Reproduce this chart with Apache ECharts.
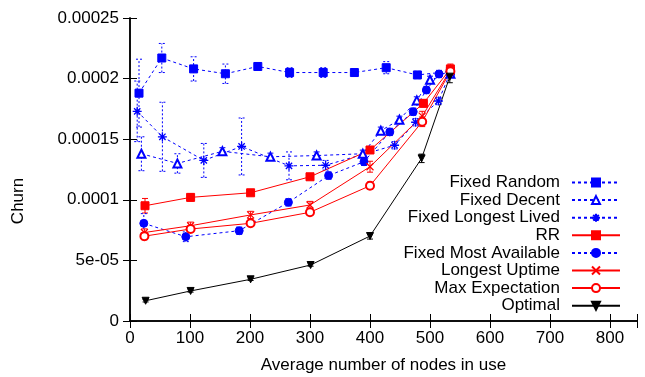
<!DOCTYPE html>
<html><head><meta charset="utf-8">
<script src="https://cdn.jsdelivr.net/npm/echarts@6/dist/echarts.min.js"></script>
<style>html,body{margin:0;padding:0;background:#fff}#c{width:645px;height:377px}</style>
</head><body><div id="c"></div>
<script>
const xTickLabels = ['0','100','200','300','400','500','600','700','800'];
const yTickLabels = ['0','5e-05','0.0001','0.00015','0.0002','0.00025'];
const seriesNames = ['Fixed Random','Fixed Decent','Fixed Longest Lived','RR','Fixed Most Available','Longest Uptime','Max Expectation','Optimal'];

const frX = [15, 53, 106, 159, 213, 266, 322, 374, 427, 479, 534];
const frY = [0.000188, 0.000217, 0.000208, 0.000204, 0.000210, 0.000205, 0.000205, 0.000205, 0.000209, 0.000203, 0.000206];
const frE = [0.000028, 0.000012, 0.000010, 0.000008, 0.000003, 0.000004, 0.000004, 0.000003, 0.000005, 0.000003, 0.000003];

const fdX = [19, 79, 154, 234, 311, 388, 418, 449, 478, 500, 534];
const fdY = [0.000138, 0.000130, 0.000140, 0.0001355, 0.0001365, 0.000138, 0.000157, 0.000166, 0.000182, 0.000199, 0.000204];
const fdE = [0.000014, 0.000008, 0.000003, 0.000003, 0.000003, 0.000003, 0.000003, 0.000003, 0.000003, 0.000003, 0.000003];

const fllX = [12, 54, 123, 186, 265, 326, 441, 476, 514, 534];
const fllY = [0.000173, 0.000152, 0.0001325, 0.000144, 0.000128, 0.0001285, 0.000145, 0.000164, 0.0001815, 0.000205];
const fllE = [0.000025, 0.0000285, 0.000014, 0.0000235, 0.0000115, 0.000004, 0.000003, 0.000003, 0.000003, 0.000003];

const rrX = [25, 101, 201, 300, 400, 489, 534];
const rrY = [0.0000951, 0.000102, 0.0001058, 0.000119, 0.0001411, 0.0001796, 0.000208];
const rrE = [0.000006, 0.000003, 0.000002, 0.000002, 0.000002, 0.000003, 0.000004];

const fmaX = [23, 93, 182, 264, 331, 390, 433, 472, 494, 515, 534];
const fmaY = [0.0000806, 0.0000695, 0.0000745, 0.0000979, 0.000120, 0.0001314, 0.000156, 0.0001727, 0.0001906, 0.0002038, 0.000205];
const fmaE = [0.000008, 0.000004, 0.000003, 0.000003, 0.000003, 0.000003, 0.000003, 0.000003, 0.000003, 0.000003, 0.000003];

const luX = [24, 101, 201, 300, 400, 487, 534];
const luY = [0.0000730, 0.0000786, 0.0000875, 0.0000957, 0.0001273, 0.000169, 0.000207];
const luE = [0.000003, 0.000003, 0.000003, 0.000003, 0.0000045, 0.000004, 0.000004];

const meX = [24, 101, 201, 300, 400, 487, 534];
const meY = [0.0000700, 0.0000759, 0.0000806, 0.0000897, 0.0001116, 0.0001644, 0.000206];
const meE = [0.000003, 0.000002, 0.000002, 0.000002, 0.000003, 0.000004, 0.000004];

const optX = [26, 101, 201, 301, 400, 486, 533];
const optY = [0.0000167, 0.0000248, 0.0000344, 0.0000462, 0.0000701, 0.0001342, 0.0002016];
const optE = [0.000001, 0.000001, 0.000001, 0.000001, 0.0000025, 0.0000035, 0.000005];

const BLUE = '#0000ff', RED = '#ff0000', BLACK = '#000000';
const FONT = '"Liberation Sans", Arial, sans-serif';
const STAR = 'path://M5 0L5 10M0 5L10 5M1.5 1.5L8.5 8.5M8.5 1.5L1.5 8.5';
const XMARK = 'path://M0 0L10 10M10 0L0 10';

function pairs(xs, ys) { return xs.map((x, i) => [x, ys[i]]); }

function lineSeries(name, xs, ys, color, dashed, symbol, size, extra) {
  return Object.assign({
    type: 'line', name: name, data: pairs(xs, ys),
    symbol: symbol, symbolSize: size, showAllSymbol: true,
    lineStyle: { color: color, width: 1, type: dashed ? [3, 3] : 'solid' },
    itemStyle: { color: color, borderColor: color, borderWidth: 1 },
    z: 3, animation: false
  }, extra || {});
}

function errSeries(name, xs, ys, es, color, dashed) {
  return {
    type: 'custom', name: name + ' error',
    data: xs.map((x, i) => [x, ys[i] - es[i], ys[i] + es[i]]),
    encode: { x: 0, y: [1, 2] },
    renderItem: function (params, api) {
      const x = api.value(0);
      const lo = api.coord([x, api.value(1)]);
      const hi = api.coord([x, api.value(2)]);
      const w = 3;
      const style = { stroke: color, lineWidth: 1, lineDash: dashed ? [2, 2] : null, fill: null };
      return { type: 'group', children: [
        { type: 'line', shape: { x1: lo[0], y1: lo[1], x2: hi[0], y2: hi[1] }, style: style },
        { type: 'line', shape: { x1: lo[0] - w, y1: lo[1], x2: lo[0] + w, y2: lo[1] }, style: style },
        { type: 'line', shape: { x1: hi[0] - w, y1: hi[1], x2: hi[0] + w, y2: hi[1] }, style: style }
      ]};
    },
    z: 2, silent: true, animation: false
  };
}

const chart = echarts.init(document.getElementById('c'), null, { renderer: 'canvas' });

const axisLineStyle = { show: true, lineStyle: { color: '#000', width: 1.5 } };
const tickStyle = { show: true, inside: true, length: 7, lineStyle: { color: '#000', width: 1 } };

const option = {
  backgroundColor: '#fff',
  animation: false,
  grid: { left: 130, right: 8, top: 18, bottom: 56, outerBoundsMode: 'none' },
  xAxis: [{
    type: 'value', min: 0, max: 845, interval: 100, position: 'bottom',
    axisLine: axisLineStyle, axisTick: tickStyle, splitLine: { show: false },
    axisLabel: { margin: 9, color: '#000', fontSize: 17, fontFamily: FONT,
      formatter: v => (v % 100 === 0 ? xTickLabels[v / 100] : '') },
    name: 'Average number of nodes in use', nameLocation: 'middle', nameGap: 36,
    nameTextStyle: { color: '#000', fontSize: 17, fontFamily: FONT }
  }, {
    type: 'value', min: 0, max: 845, interval: 100, position: 'top',
    axisLine: axisLineStyle, axisTick: tickStyle, splitLine: { show: false },
    axisLabel: { show: false }
  }],
  yAxis: [{
    type: 'value', min: 0, max: 0.00025, interval: 0.00005, position: 'left',
    axisLine: axisLineStyle, axisTick: tickStyle, splitLine: { show: false },
    axisLabel: { margin: 11, color: '#000', fontSize: 17, fontFamily: FONT,
      formatter: v => yTickLabels[Math.round(v / 0.00005)] }
  }, {
    type: 'value', min: 0, max: 0.00025, interval: 0.00005, position: 'right',
    axisLine: axisLineStyle, axisTick: tickStyle, splitLine: { show: false },
    axisLabel: { show: false }
  }],
  legend: {
    orient: 'vertical', right: 24, top: 174, align: 'right',
    itemWidth: 48, itemHeight: 10, itemGap: 0.6, padding: 0,
    data: seriesNames,
    textStyle: { color: '#000', fontSize: 17, fontFamily: FONT, lineHeight: 10, padding: [0, 7, 0, 0] }
  },
  graphic: [{
    type: 'text', x: 18, y: 201, rotation: Math.PI / 2,
    style: { text: 'Churn', fill: '#000', font: '17px ' + FONT, align: 'center', verticalAlign: 'middle' }
  }],
  series: [
    errSeries('Fixed Random', frX, frY, frE, BLUE, true),
    lineSeries('Fixed Random', frX, frY, BLUE, true, 'rect', 8),
    errSeries('Fixed Decent', fdX, fdY, fdE, BLUE, true),
    lineSeries('Fixed Decent', fdX, fdY, BLUE, true, 'emptyTriangle', 8, { itemStyle: { color: BLUE, borderColor: BLUE, borderWidth: 1.2 } }),
    errSeries('Fixed Longest Lived', fllX, fllY, fllE, BLUE, true),
    lineSeries('Fixed Longest Lived', fllX, fllY, BLUE, true, STAR, 9, { itemStyle: { color: 'none', borderColor: BLUE, borderWidth: 1.3 } }),
    errSeries('RR', rrX, rrY, rrE, RED, false),
    lineSeries('RR', rrX, rrY, RED, false, 'rect', 8),
    errSeries('Fixed Most Available', fmaX, fmaY, fmaE, BLUE, true),
    lineSeries('Fixed Most Available', fmaX, fmaY, BLUE, true, 'circle', 8),
    errSeries('Longest Uptime', luX, luY, luE, RED, false),
    lineSeries('Longest Uptime', luX, luY, RED, false, XMARK, 7, { itemStyle: { color: 'none', borderColor: RED, borderWidth: 1.2 } }),
    errSeries('Max Expectation', meX, meY, meE, RED, false),
    lineSeries('Max Expectation', meX, meY, RED, false, 'emptyCircle', 8, { itemStyle: { color: RED, borderColor: RED, borderWidth: 1.2 } }),
    errSeries('Optimal', optX, optY, optE, BLACK, false),
    lineSeries('Optimal', optX, optY, BLACK, false, 'triangle', 7, { symbolRotate: 180 })
  ]
};
chart.setOption(option);
</script>
</body></html>
